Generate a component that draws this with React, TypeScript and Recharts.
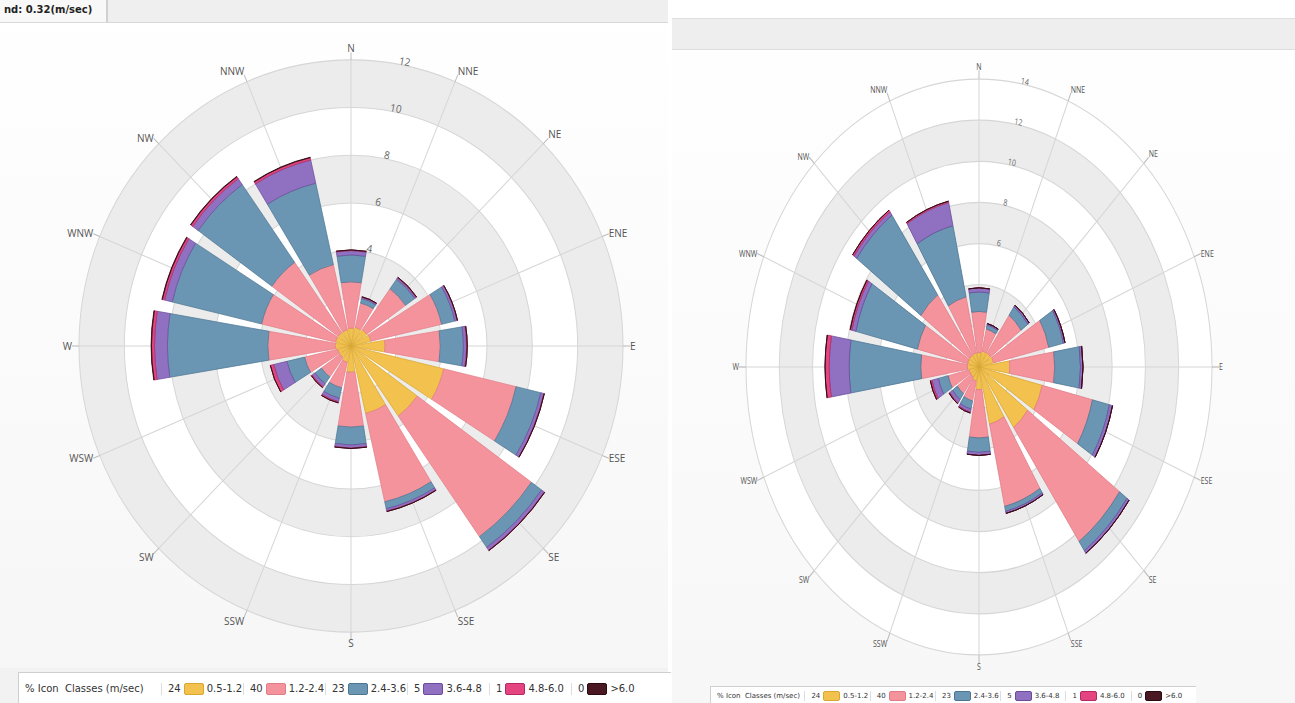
import React from 'react';
import {
  RadialBarChart,
  RadialBar,
  PolarAngleAxis,
  PolarRadiusAxis,
  PolarGrid,
} from 'recharts';

// compass directions and their bearings (degrees clockwise from north)
const directions = ['N', 'NNE', 'NE', 'ENE', 'E', 'ESE', 'SE', 'SSE', 'S', 'SSW', 'SW', 'WSW', 'W', 'WNW', 'NW', 'NNW'];
const bearings = [0, 22.5, 45, 67.5, 90, 112.5, 135, 157.5, 180, 202.5, 225, 247.5, 270, 292.5, 315, 337.5];

// speed classes
const classLabels = ['0.5-1.2', '1.2-2.4', '2.4-3.6', '3.6-4.8', '4.8-6.0', '>6.0'];
const classPercents = [24, 40, 23, 5, 1, 0];
const classColors = ['#f2c14e', '#f5939d', '#6a96b4', '#9070c0', '#e4447f', '#4a1822'];
const classStrokes = ['#d8a733', '#e07c87', '#4c7592', '#6a4b9c', '#b32a62', '#2a0a10'];

// left rose: % frequency per direction, one array per speed class
const leftC1 = [0.75, 0.8, 0.85, 0.9, 1.5, 4.2, 3.6, 2.9, 1.1, 0.7, 0.6, 0.6, 0.7, 0.7, 0.7, 0.7];
const leftC2 = [1.94, 1.05, 2.1, 3.2, 2.44, 3.28, 6.2, 3.8, 2.3, 1.1, 1.0, 1.5, 2.97, 3.35, 3.6, 2.8];
const leftC3 = [1.13, 0.2, 0.5, 0.6, 1.02, 1.12, 0.55, 0.3, 0.75, 0.45, 0.35, 0.8, 4.43, 4.05, 4.0, 3.5];
const leftC4 = [0.18, 0.05, 0.07, 0.1, 0.14, 0.14, 0.15, 0.1, 0.13, 0.15, 0.15, 0.6, 0.57, 0.35, 0.3, 1.0];
const leftC5 = [0.03, 0.02, 0.03, 0.02, 0.03, 0.02, 0.02, 0.02, 0.02, 0.05, 0.05, 0.15, 0.13, 0.1, 0.1, 0.1];
const leftC6 = [0, 0, 0, 0, 0, 0, 0, 0, 0, 0, 0, 0, 0.02, 0.02, 0.02, 0.02];
const leftTicks = [0, 2, 4, 6, 8, 10, 12];

// right rose
const rightC1 = [0.7, 0.8, 0.85, 0.9, 1.85, 3.9, 3.6, 2.85, 1.1, 0.7, 0.6, 0.6, 0.7, 0.7, 0.7, 0.7];
const rightC2 = [2.0, 1.1, 2.25, 3.4, 2.7, 3.1, 6.8, 4.1, 2.35, 1.0, 1.0, 1.3, 2.8, 3.1, 3.6, 2.8];
const rightC3 = [0.95, 0.2, 0.5, 0.9, 1.55, 1.05, 0.55, 0.25, 0.7, 0.4, 0.35, 0.6, 4.3, 3.8, 4.75, 3.55];
const rightC4 = [0.2, 0.07, 0.1, 0.1, 0.15, 0.19, 0.15, 0.1, 0.15, 0.15, 0.2, 0.4, 1.2, 0.25, 0.2, 1.15];
const rightC5 = [0, 0, 0, 0, 0, 0, 0, 0, 0, 0.05, 0.05, 0.1, 0.25, 0.1, 0.1, 0.07];
const rightC6 = [0, 0, 0, 0, 0, 0, 0, 0, 0, 0, 0, 0, 0, 0, 0, 0];
const rightTicks = [0, 2, 4, 6, 8, 10, 12, 14];

const buildRows = (cls: number[][]) =>
  directions.map((d, i) => ({
    dir: d,
    bearing: bearings[i],
    c1: cls[0][i],
    c2: cls[1][i],
    c3: cls[2][i],
    c4: cls[3][i],
    c5: cls[4][i],
    c6: cls[5][i],
  }));

const leftRows = buildRows([leftC1, leftC2, leftC3, leftC4, leftC5, leftC6]);
const rightRows = buildRows([rightC1, rightC2, rightC3, rightC4, rightC5, rightC6]);

interface RoseProps {
  rows: any[];
  ticks: number[];
  minLabel: number;
  width: number;
  height: number;
  radius: number;
  fontSize: number;
  left: number;
  top: number;
  stretch: number;
}

function WindRose({ rows, ticks, minLabel, width, height, radius, fontSize, left, top, stretch }: RoseProps) {
  const max = ticks[ticks.length - 1];
  const cx = width / 2;
  const cy = height / 2;
  // alternating ring bands between radius ticks
  const ringRow: Record<string, any> = { k: 'ring' };
  ticks.slice(1).forEach((t, i) => {
    ringRow['b' + i] = t - ticks[i];
  });

  const wrap: React.CSSProperties = {
    position: 'absolute',
    left,
    top,
    width,
    height,
    transform: `scale(1, ${stretch})`,
    transformOrigin: `${cx}px ${cy}px`,
  };

  return (
    <>
      <div style={wrap}>
        <RadialBarChart
          width={width}
          height={height}
          data={[ringRow]}
          cx={cx}
          cy={cy}
          innerRadius={0}
          outerRadius={radius}
          startAngle={90}
          endAngle={-270}
          layout="centric"
          barCategoryGap={0}
          margin={{ top: 0, right: 0, bottom: 0, left: 0 }}
        >
          <PolarAngleAxis type="category" dataKey="k" tick={false} axisLine={false} tickLine={false} />
          <PolarRadiusAxis type="number" domain={[0, max]} tick={false} axisLine={false} />
          {ticks.slice(1).map((t, i) => (
            <RadialBar
              key={'b' + i}
              dataKey={'b' + i}
              stackId="ring"
              fill={i % 2 === 1 ? '#ececec' : '#ffffff'}
              isAnimationActive={false}
            />
          ))}
        </RadialBarChart>
      </div>
      <div style={wrap}>
        <RadialBarChart
          width={width}
          height={height}
          data={rows}
          cx={cx}
          cy={cy}
          innerRadius={0}
          outerRadius={radius}
          startAngle={90}
          endAngle={-270}
          layout="centric"
          barCategoryGap="7%"
          margin={{ top: 0, right: 0, bottom: 0, left: 0 }}
        >
          <PolarGrid gridType="circle" stroke="#d6d6d6" />
          <PolarAngleAxis
            type="number"
            dataKey="bearing"
            domain={[0, 360]}
            ticks={bearings}
            tickFormatter={(v: number) => directions[bearings.indexOf(v)]}
            tick={{ fontSize, fill: '#555', fontFamily: 'Open Sans, sans-serif' }}
            tickLine={{ stroke: '#bbb' }}
            tickSize={7}
            axisLine={false}
          />
          <PolarRadiusAxis
            type="number"
            domain={[0, max]}
            ticks={ticks}
            angle={78.75}
            axisLine={false}
            tickLine={false}
            tickFormatter={(v: number) => (v >= minLabel ? String(v) : '')}
            tick={{ fontSize, fill: '#666', fontFamily: 'Open Sans, sans-serif' }}
            orientation="middle"
          />
          {['c1', 'c2', 'c3', 'c4', 'c5', 'c6'].map((k, i) => (
            <RadialBar
              key={k}
              dataKey={k}
              stackId="speed"
              fill={classColors[i]}
              stroke={classStrokes[i]}
              strokeWidth={0.7}
              isAnimationActive={false}
            />
          ))}
        </RadialBarChart>
      </div>
    </>
  );
}

interface LegendProps {
  left: number;
  top: number;
  width: number;
  height: number;
  fontSize: number;
  titleWidth: number;
  itemWidth: number;
  swatchW: number;
  swatchH: number;
}

function LegendStrip({ left, top, width, height, fontSize, titleWidth, itemWidth, swatchW, swatchH }: LegendProps) {
  return (
    <div
      style={{
        position: 'absolute',
        left,
        top,
        width,
        height,
        background: '#fff',
        borderTop: '1px solid #cfcfcf',
        borderLeft: '1px solid #cfcfcf',
        display: 'flex',
        alignItems: 'center',
        overflow: 'hidden',
        fontFamily: 'DejaVu Sans, sans-serif',
        fontSize,
        color: '#333',
        whiteSpace: 'nowrap',
      }}
    >
      <div style={{ width: titleWidth, paddingLeft: 6, boxSizing: 'border-box' }}>% Icon&nbsp; Classes (m/sec)</div>
      {classLabels.map((lab, i) => (
        <div
          key={lab}
          style={{
            width: itemWidth,
            boxSizing: 'border-box',
            borderLeft: '1px solid #ddd',
            paddingLeft: 6,
            display: 'flex',
            alignItems: 'center',
            gap: 3,
          }}
        >
          <span>{classPercents[i]}</span>
          <span
            style={{
              display: 'inline-block',
              width: swatchW,
              height: swatchH,
              background: classColors[i],
              border: `1px solid ${classStrokes[i]}`,
              borderRadius: 2,
            }}
          />
          <span>{lab}</span>
        </div>
      ))}
    </div>
  );
}

export default function App() {
  return (
    <div style={{ position: 'absolute', left: 0, top: 0, width: 1295, height: 703, background: '#fff', overflow: 'hidden' }}>
      {/* left panel */}
      <div style={{ position: 'absolute', left: 0, top: 0, width: 668, height: 703, background: 'linear-gradient(#ffffff, #f6f6f6)' }} />
      <div style={{ position: 'absolute', left: 0, top: 0, width: 668, height: 22, background: '#efefef', borderBottom: '1px solid #d8d8d8' }} />
      <div
        style={{
          position: 'absolute',
          left: 0,
          top: 0,
          width: 108,
          height: 22,
          background: '#f8f8f8',
          borderRight: '2px solid #d0d0d0',
          fontFamily: 'DejaVu Sans, sans-serif',
          fontWeight: 'bold',
          fontSize: 10,
          lineHeight: '20px',
          paddingLeft: 4,
          boxSizing: 'border-box',
          color: '#222',
        }}
      >
        nd: 0.32(m/sec)
      </div>
      <WindRose
        rows={leftRows}
        ticks={leftTicks}
        minLabel={4}
        width={620}
        height={620}
        radius={272}
        fontSize={10}
        left={41}
        top={36}
        stretch={1.052}
      />
      <div style={{ position: 'absolute', left: 0, top: 668, width: 668, height: 35, background: '#f2f2f2' }} />
      <LegendStrip left={18} top={672} width={652} height={31} fontSize={10} titleWidth={142} itemWidth={82} swatchW={18} swatchH={10} />

      {/* right panel */}
      <div style={{ position: 'absolute', left: 672, top: 0, width: 623, height: 703, background: 'linear-gradient(#ffffff, #f7f7f7)' }} />
      <div style={{ position: 'absolute', left: 672, top: 18, width: 623, height: 30, background: '#eeeeee', borderTop: '1px solid #dedede', borderBottom: '1px solid #dedede' }} />
      <WindRose
        rows={rightRows}
        ticks={rightTicks}
        minLabel={6}
        width={560}
        height={600}
        radius={233}
        fontSize={7}
        left={699}
        top={67}
        stretch={1.236}
      />
      <LegendStrip left={710} top={686} width={485} height={17} fontSize={7} titleWidth={96} itemWidth={67} swatchW={15} swatchH={8} />
    </div>
  );
}
